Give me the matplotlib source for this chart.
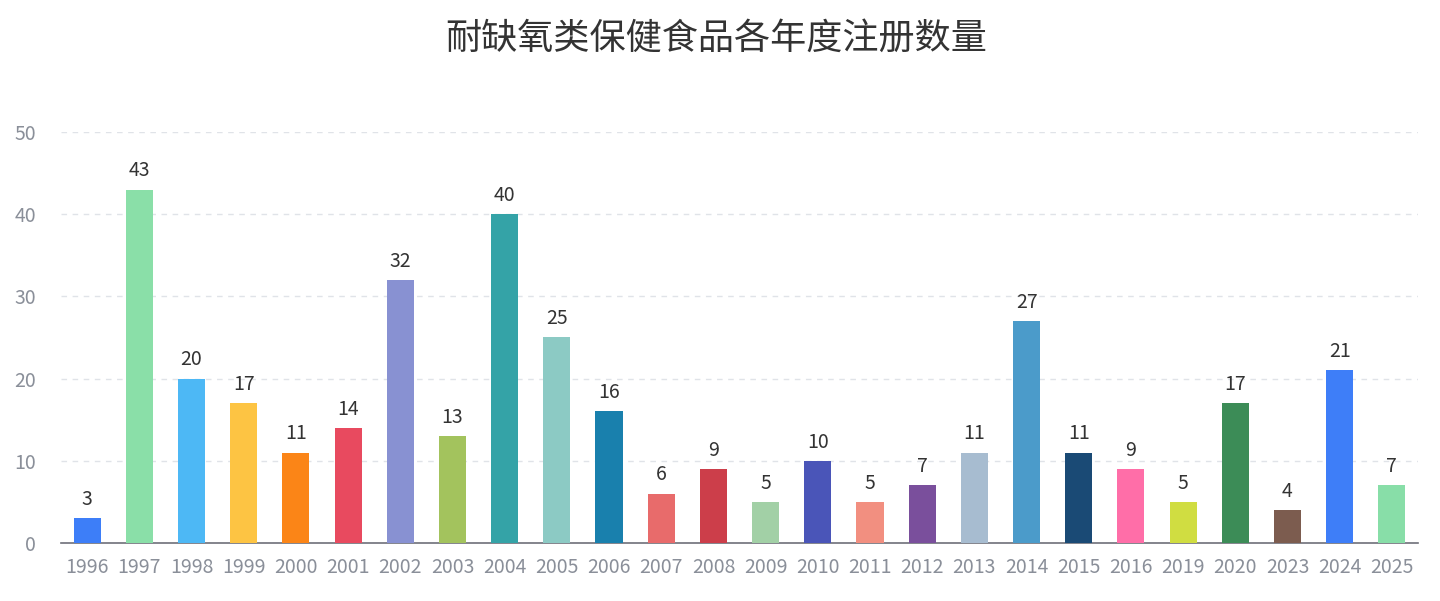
import matplotlib
matplotlib.use('Agg')
import matplotlib.pyplot as plt

plt.rcParams['font.family'] = ['Noto Sans CJK SC', 'DejaVu Sans']

## 数据
years = ['1996', '1997', '1998', '1999', '2000', '2001', '2002', '2003', '2004', '2005',
         '2006', '2007', '2008', '2009', '2010', '2011', '2012', '2013', '2014', '2015',
         '2016', '2019', '2020', '2023', '2024', '2025']
counts = [3, 43, 20, 17, 11, 14, 32, 13, 40, 25,
          16, 6, 9, 5, 10, 5, 7, 11, 27, 11,
          9, 5, 17, 4, 21, 7]
colors = ['#3d7ef8', '#8adfa8', '#4db8f5', '#fdc443', '#fb8517', '#e84a5f', '#8891d2',
          '#a3c35d', '#34a3a7', '#8ccac4', '#1980ad', '#e86b6b', '#cc3e4a', '#a2d0a6',
          '#4a55b8', '#f28f80', '#7a4f9c', '#a7bcd0', '#4b9bca', '#1a4a75', '#ff6ea8',
          '#d0dd41', '#3c8c57', '#7c5c4f', '#3e7ef8', '#88dea8']

fig = plt.figure(figsize=(14.4, 6.01), dpi=100)
ax = fig.add_axes([0.0424, 0.0965, 0.9423, 0.6839])

x = range(len(years))
ax.bar(x, counts, width=0.52, color=colors, zorder=3)
# 柱顶数值标签
for xi, v in zip(x, counts):
    ax.text(xi, v + 1.0, str(v), ha='center', va='bottom', fontsize=14, color='#333333')

ax.set_xlim(-0.5, len(years) - 0.5)
ax.set_ylim(0, 50)
ax.set_yticks([0, 10, 20, 30, 40, 50])
ax.set_xticks(list(x))
ax.set_xticklabels(years)

# 网格线：浅灰虚线
ax.grid(axis='y', linestyle=(0, (4, 4)), color='#e0e3e8', linewidth=1, zorder=0)
for s in ['top', 'right', 'left']:
    ax.spines[s].set_visible(False)
ax.spines['bottom'].set_color('#6e7079')
ax.spines['bottom'].set_linewidth(1.2)
ax.tick_params(axis='both', length=0, labelsize=14, colors='#8a8f99')
ax.tick_params(axis='x', pad=10)
ax.tick_params(axis='y', pad=18)

fig.text(0.4975, 0.935, '耐缺氧类保健食品各年度注册数量', ha='center', va='center',
         fontsize=26, color='#333333')

fig.savefig('out.png', dpi=100)
